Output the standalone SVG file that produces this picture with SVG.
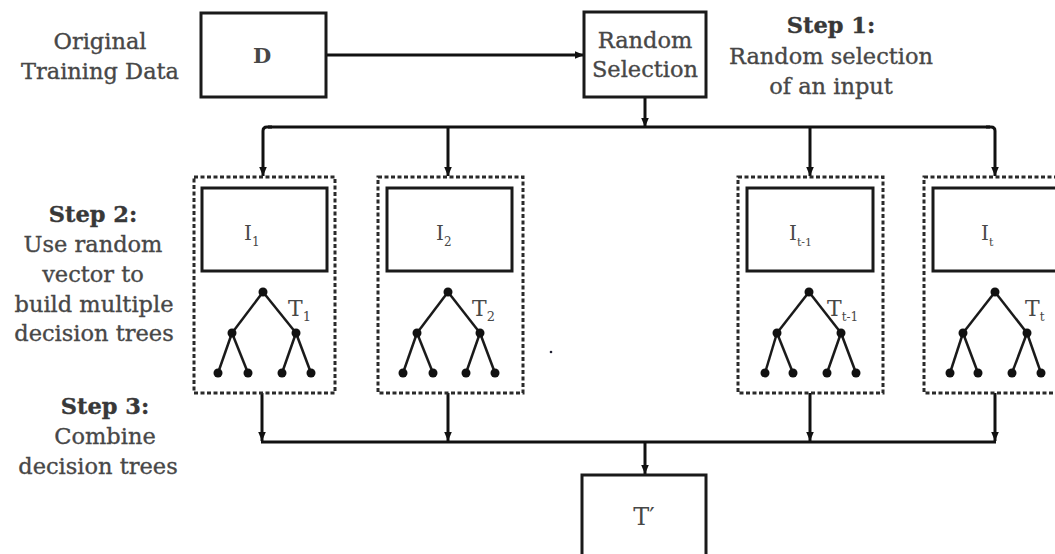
<svg xmlns="http://www.w3.org/2000/svg" width="1055" height="554" viewBox="0 0 1055 554">
  <defs>
    <marker id="arrow" markerUnits="userSpaceOnUse" markerWidth="10" markerHeight="10" refX="9" refY="5" orient="auto">
      <path d="M0,1.2 L9,5 L0,8.8 z" fill="#111"/>
    </marker>
    <style>
      .lbl { font-family: "DejaVu Serif", "Liberation Serif", serif; fill: #474747; stroke: #474747; stroke-width: 0.35; font-size: 22.5px; text-anchor: middle; }
      .step { font-weight: bold; fill: #383838; stroke: #383838; }
      .box { fill: #fff; stroke: #1a1a1a; stroke-width: 3; }
      .group { fill: none; stroke: #2a2a2a; stroke-width: 3; stroke-dasharray: 4 2.5; }
      .conn { fill: none; stroke: #111; stroke-width: 3; }
      .edge { stroke: #1a1a1a; stroke-width: 2.5; }
      .dot { fill: #111; }
      .sym { font-family: "DejaVu Serif", "Liberation Serif", serif; fill: #474747; }
    </style>
  </defs>
  <rect width="1055" height="554" fill="#fff"/>

  <!-- side captions -->
  <g id="caption-data">
    <text class="lbl" x="100" y="49">Original</text>
    <text class="lbl" x="100" y="79">Training Data</text>
  </g>
  <g id="caption-step1">
    <text class="lbl step" x="831" y="33">Step 1:</text>
    <text class="lbl" x="831" y="64">Random selection</text>
    <text class="lbl" x="831" y="94">of an input</text>
  </g>
  <g id="caption-step2">
    <text class="lbl step" x="93" y="222">Step 2:</text>
    <text class="lbl" x="93" y="252">Use random</text>
    <text class="lbl" x="93" y="282">vector to</text>
    <text class="lbl" x="94" y="312">build multiple</text>
    <text class="lbl" x="94" y="341">decision trees</text>
  </g>
  <g id="caption-step3">
    <text class="lbl step" x="105" y="414">Step 3:</text>
    <text class="lbl" x="105" y="444">Combine</text>
    <text class="lbl" x="98" y="474">decision trees</text>
  </g>

  <!-- connectors -->
  <g id="connectors">
    <line class="conn" x1="326" y1="55" x2="584" y2="55" marker-end="url(#arrow)"/>
    <line class="conn" x1="645" y1="97" x2="645" y2="127" marker-end="url(#arrow)"/>
    <path class="conn" d="M268,127 H990"/>
    <path class="conn" d="M272,127 H267 Q263,127 263,131 V176" marker-end="url(#arrow)"/>
    <path class="conn" d="M448,127 V176" marker-end="url(#arrow)"/>
    <path class="conn" d="M810,127 V176" marker-end="url(#arrow)"/>
    <path class="conn" d="M986,127 H991 Q995,127 995,131 V176" marker-end="url(#arrow)"/>

    <path class="conn" d="M262,393 V441" marker-end="url(#arrow)"/>
    <path class="conn" d="M448,393 V441" marker-end="url(#arrow)"/>
    <path class="conn" d="M810,393 V441" marker-end="url(#arrow)"/>
    <path class="conn" d="M995,393 V441" marker-end="url(#arrow)"/>
    <path class="conn" d="M261,442 H996"/>
    <path class="conn" d="M645,442 V474" marker-end="url(#arrow)"/>
  </g>

  <!-- input data -->
  <g id="node-D">
    <rect class="box" x="201" y="13" width="125" height="84"/>
    <text class="sym" x="262" y="63" font-size="21" font-weight="bold" text-anchor="middle">D</text>
  </g>

  <g id="node-random-selection">
    <rect class="box" x="584" y="12" width="122" height="85"/>
    <text class="lbl" x="645" y="48" font-size="17">Random</text>
    <text class="lbl" x="645" y="77" font-size="17">Selection</text>
  </g>

  <!-- tree 1 -->
  <g id="tree-1">
    <rect class="group" x="194" y="177" width="141" height="216"/>
    <rect class="box" x="202" y="188" width="125" height="83"/>
    <text class="sym" x="244" y="240" font-size="20">I<tspan font-size="12" dy="6">1</tspan></text>
    <line class="edge" x1="263" y1="292" x2="232" y2="333"/>
    <line class="edge" x1="263" y1="292" x2="296" y2="333"/>
    <line class="edge" x1="232" y1="333" x2="218" y2="373"/>
    <line class="edge" x1="232" y1="333" x2="248" y2="373"/>
    <line class="edge" x1="296" y1="333" x2="282" y2="373"/>
    <line class="edge" x1="296" y1="333" x2="311" y2="373"/>
    <circle class="dot" cx="263" cy="292" r="4.5"/>
    <circle class="dot" cx="232" cy="333" r="4.5"/>
    <circle class="dot" cx="296" cy="333" r="4.5"/>
    <circle class="dot" cx="218" cy="373" r="4.5"/>
    <circle class="dot" cx="248" cy="373" r="4.5"/>
    <circle class="dot" cx="282" cy="373" r="4.5"/>
    <circle class="dot" cx="311" cy="373" r="4.5"/>
    <text class="sym" x="288" y="316" font-size="22">T<tspan font-size="13" dy="5">1</tspan></text>
  </g>

  <!-- tree 2 -->
  <g id="tree-2">
    <rect class="group" x="378" y="177" width="145" height="216"/>
    <rect class="box" x="387" y="188" width="125" height="83"/>
    <text class="sym" x="436" y="240" font-size="20">I<tspan font-size="12" dy="6">2</tspan></text>
    <line class="edge" x1="448" y1="292" x2="417" y2="333"/>
    <line class="edge" x1="448" y1="292" x2="480" y2="333"/>
    <line class="edge" x1="417" y1="333" x2="403" y2="373"/>
    <line class="edge" x1="417" y1="333" x2="433" y2="373"/>
    <line class="edge" x1="480" y1="333" x2="466" y2="373"/>
    <line class="edge" x1="480" y1="333" x2="495" y2="373"/>
    <circle class="dot" cx="448" cy="292" r="4.5"/>
    <circle class="dot" cx="417" cy="333" r="4.5"/>
    <circle class="dot" cx="480" cy="333" r="4.5"/>
    <circle class="dot" cx="403" cy="373" r="4.5"/>
    <circle class="dot" cx="433" cy="373" r="4.5"/>
    <circle class="dot" cx="466" cy="373" r="4.5"/>
    <circle class="dot" cx="495" cy="373" r="4.5"/>
    <text class="sym" x="472" y="316" font-size="22">T<tspan font-size="13" dy="5">2</tspan></text>
  </g>

  <circle cx="551" cy="352" r="1.3" fill="#223"/>

  <!-- tree t-1 -->
  <g id="tree-t-1">
    <rect class="group" x="738" y="177" width="145" height="216"/>
    <rect class="box" x="747" y="188" width="126" height="83"/>
    <text class="sym" x="789" y="240" font-size="20">I<tspan font-size="11" dy="6">t-1</tspan></text>
    <line class="edge" x1="809" y1="292" x2="777" y2="333"/>
    <line class="edge" x1="809" y1="292" x2="841" y2="333"/>
    <line class="edge" x1="777" y1="333" x2="765" y2="373"/>
    <line class="edge" x1="777" y1="333" x2="793" y2="373"/>
    <line class="edge" x1="841" y1="333" x2="827" y2="373"/>
    <line class="edge" x1="841" y1="333" x2="856" y2="373"/>
    <circle class="dot" cx="809" cy="292" r="4.5"/>
    <circle class="dot" cx="777" cy="333" r="4.5"/>
    <circle class="dot" cx="841" cy="333" r="4.5"/>
    <circle class="dot" cx="765" cy="373" r="4.5"/>
    <circle class="dot" cx="793" cy="373" r="4.5"/>
    <circle class="dot" cx="827" cy="373" r="4.5"/>
    <circle class="dot" cx="856" cy="373" r="4.5"/>
    <text class="sym" x="827" y="316" font-size="22">T<tspan font-size="12" dy="5">t-1</tspan></text>
  </g>

  <!-- tree t -->
  <g id="tree-t">
    <rect class="group" x="924" y="177" width="145" height="216"/>
    <rect class="box" x="933" y="188" width="126" height="83"/>
    <text class="sym" x="981" y="240" font-size="20">I<tspan font-size="11" dy="6">t</tspan></text>
    <line class="edge" x1="995" y1="292" x2="963" y2="333"/>
    <line class="edge" x1="995" y1="292" x2="1027" y2="333"/>
    <line class="edge" x1="963" y1="333" x2="950" y2="373"/>
    <line class="edge" x1="963" y1="333" x2="978" y2="373"/>
    <line class="edge" x1="1027" y1="333" x2="1012" y2="373"/>
    <line class="edge" x1="1027" y1="333" x2="1041" y2="373"/>
    <circle class="dot" cx="995" cy="292" r="4.5"/>
    <circle class="dot" cx="963" cy="333" r="4.5"/>
    <circle class="dot" cx="1027" cy="333" r="4.5"/>
    <circle class="dot" cx="950" cy="373" r="4.5"/>
    <circle class="dot" cx="978" cy="373" r="4.5"/>
    <circle class="dot" cx="1012" cy="373" r="4.5"/>
    <circle class="dot" cx="1041" cy="373" r="4.5"/>
    <text class="sym" x="1025" y="316" font-size="22">T<tspan font-size="12" dy="5">t</tspan></text>
  </g>

  <!-- combined result -->
  <g id="node-combined">
    <rect class="box" x="582" y="475" width="124" height="100"/>
    <text class="sym" x="644" y="525" font-size="24" text-anchor="middle">T′</text>
  </g>
</svg>
